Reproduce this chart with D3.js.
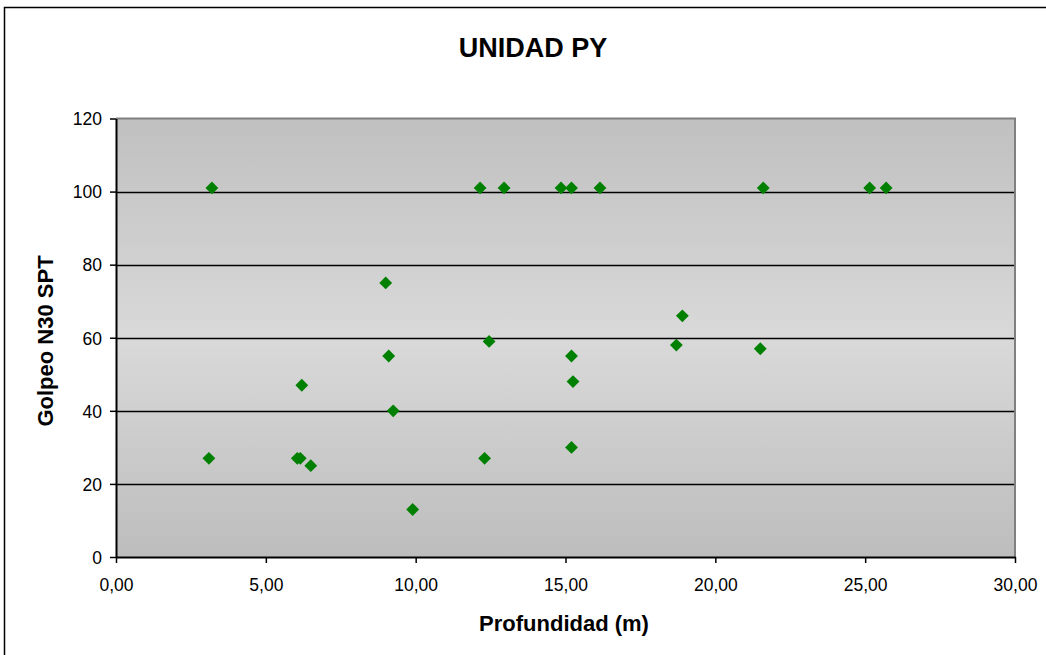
<!DOCTYPE html>
<html><head><meta charset="utf-8">
<script src="https://cdn.jsdelivr.net/npm/d3@7"></script>
<style>body{margin:0;background:#fff}svg{display:block;font-family:Arial,"Liberation Sans",sans-serif}</style>
</head><body><svg id="c" width="1046" height="655"></svg>
<script>
const title = "UNIDAD PY";
const xLabel = "Profundidad (m)";
const yLabel = "Golpeo N30 SPT";
const depth = [3.1, 3.2, 6.05, 6.15, 6.5, 6.2, 9.0, 9.1, 9.25, 9.9, 12.15, 12.95, 14.85, 15.2, 16.15, 12.45, 12.3, 15.2, 15.25, 15.2, 18.9, 18.7, 21.5, 21.6, 25.15, 25.7];
const golpeo = [27, 101, 27, 27, 25, 47, 75, 55, 40, 13, 101, 101, 101, 101, 101, 59, 27, 55, 48, 30, 66, 58, 57, 101, 101, 101];
const xTicks = [0, 5, 10, 15, 20, 25, 30];
const yTicks = [0, 20, 40, 60, 80, 100, 120];

const svg = d3.select("#c");
const L = 116, R = 1015, T = 118.5, B = 557;
const x = d3.scaleLinear().domain([0, 30]).range([L, R]);
const y = d3.scaleLinear().domain([0, 120]).range([B, T]);

// outer chart border
svg.append("path").attr("d", `M4.5,660 V7.5 H1050`).attr("fill", "none").attr("stroke", "#000").attr("stroke-width", 1.5);

const defs = svg.append("defs");
const g = defs.append("linearGradient").attr("id", "bg").attr("x1", 0).attr("y1", 0).attr("x2", 0).attr("y2", 1);
g.append("stop").attr("offset", "0%").attr("stop-color", "#c0c0c0");
g.append("stop").attr("offset", "50%").attr("stop-color", "#d9d9d9");
g.append("stop").attr("offset", "100%").attr("stop-color", "#bdbdbd");

svg.append("rect").attr("x", L).attr("y", T).attr("width", R - L).attr("height", B - T).attr("fill", "url(#bg)");

// gridlines
svg.append("g").selectAll("line").data(yTicks.filter(d => d > 0 && d < 120)).join("line")
  .attr("x1", L).attr("x2", R).attr("y1", d => Math.round(y(d)) + 0.5).attr("y2", d => Math.round(y(d)) + 0.5)
  .attr("stroke", "#000").attr("stroke-width", 1.5);

// plot border top/right gray
svg.append("path").attr("d", `M${L},${T} H${R} V${B}`).attr("fill", "none").attr("stroke", "#808080").attr("stroke-width", 2);

// axes
const fmt = d => d3.format(".2f")(d).replace(".", ",");
const xa = svg.append("g").attr("transform", `translate(0,${B})`)
  .call(d3.axisBottom(x).tickValues(xTicks).tickFormat(fmt).tickSize(6).tickSizeOuter(0));
const ya = svg.append("g").attr("transform", `translate(${L},0)`)
  .call(d3.axisLeft(y).tickValues(yTicks).tickSize(6).tickSizeOuter(0));
[xa, ya].forEach(a => {
  a.attr("font-size", 17.5).attr("font-family", "Arial,'Liberation Sans',sans-serif");
  a.select(".domain").attr("stroke", "#000").attr("stroke-width", 2);
  a.selectAll(".tick line").attr("stroke", "#000").attr("stroke-width", 1.5);
  a.selectAll("text").attr("fill", "#000");
});
xa.selectAll("text").attr("y", 0).attr("dy", "1.95em");
ya.selectAll("text").attr("x", -14).attr("dy", "0.36em");

// points
svg.append("g").selectAll("path").data(depth.map((d, i) => [d, golpeo[i]])).join("path")
  .attr("d", d3.symbol().type(d3.symbolDiamond2).size(105))
  .attr("transform", d => `translate(${x(d[0])},${y(d[1])})`)
  .attr("fill", "#008000");

svg.append("text").attr("x", 533).attr("y", 57).attr("text-anchor", "middle")
  .attr("font-size", 27).attr("font-weight", "bold").text(title);
svg.append("text").attr("x", 564).attr("y", 631).attr("text-anchor", "middle")
  .attr("font-size", 22).attr("font-weight", "bold").text(xLabel);
svg.append("text").attr("transform", "translate(53,341) rotate(-90)").attr("text-anchor", "middle")
  .attr("font-size", 22).attr("font-weight", "bold").text(yLabel);
</script></body></html>
